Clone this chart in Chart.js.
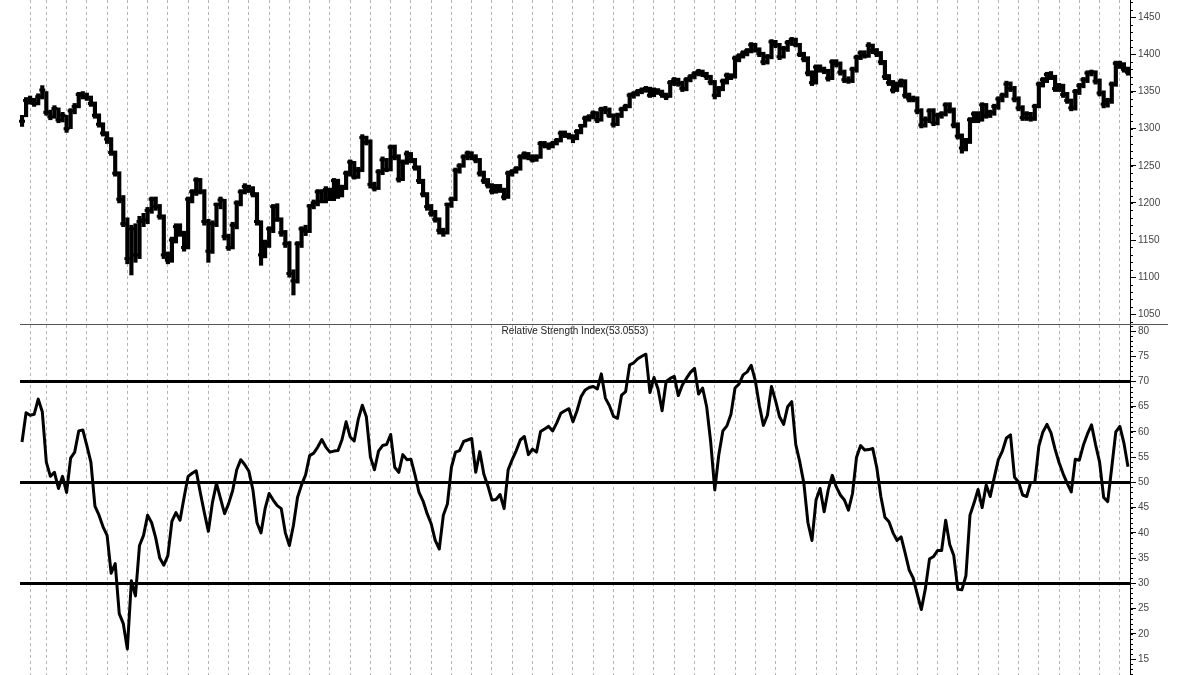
<!DOCTYPE html>
<html>
<head>
<meta charset="utf-8">
<script src="https://cdn.jsdelivr.net/npm/chart.js@4"></script>
<style>
body { margin: 0; background: #fff; }
#wrap { position: relative; width: 1200px; height: 675px; overflow: hidden; }
#priceCanvas { position: absolute; left: 0; top: 0; }
#rsiCanvas { position: absolute; left: 0; top: 325px; }
#sep { position: absolute; left: 20px; top: 324px; width: 1148px; height: 1px; background: #555; }
#rsiTitle { position: absolute; left: 20px; width: 1110px; top: 325px; text-align: center;
  font: 10px "Liberation Sans", Arial, sans-serif; color: #222; line-height: 12px; }
</style>
</head>
<body>
<div id="wrap">
	<canvas id="priceCanvas" width="1200" height="325"></canvas>
	<canvas id="rsiCanvas" width="1200" height="350"></canvas>
	<div id="sep"></div>
	<div id="rsiTitle">Relative Strength Index(53.0553)</div>
</div>
<script>
// daily bars
var closes = [
	1310,1338,1339,1334,1343,1352,1322,1316,1327,1312,
	1318,1300,1324,1330,1346,1345,1342,1334,1318,1306,
	1294,1286,1268,1240,1205,1172,1125,1165,1130,1175,
	1177,1190,1205,1195,1182,1130,1123,1150,1168,1160,
	1140,1205,1215,1231,1215,1175,1135,1172,1198,1204,
	1155,1140,1170,1200,1215,1222,1218,1212,1175,1130,
	1145,1165,1195,1178,1160,1145,1105,1095,1145,1165,
	1162,1196,1200,1215,1202,1218,1205,1230,1210,1220,
	1240,1255,1235,1244,1288,1282,1225,1220,1242,1258,
	1245,1275,1262,1232,1255,1266,1258,1248,1230,1212,
	1195,1186,1178,1163,1160,1198,1205,1244,1250,1262,
	1267,1262,1258,1240,1230,1224,1216,1222,1218,1208,
	1240,1242,1246,1262,1266,1262,1258,1262,1280,1278,
	1276,1280,1284,1294,1292,1290,1288,1296,1304,1314,
	1316,1321,1312,1326,1325,1318,1306,1318,1326,1330,
	1345,1347,1350,1352,1354,1345,1352,1350,1346,1343,
	1362,1366,1361,1354,1366,1370,1374,1377,1374,1370,
	1363,1345,1354,1364,1372,1370,1395,1398,1402,1405,
	1413,1406,1401,1390,1397,1417,1413,1397,1408,1416,
	1420,1413,1400,1394,1375,1362,1383,1380,1378,1368,
	1390,1387,1376,1366,1365,1380,1396,1402,1398,1412,
	1405,1401,1390,1370,1362,1352,1360,1364,1345,1340,
	1340,1324,1305,1312,1324,1308,1318,1320,1332,1325,
	1305,1290,1274,1283,1312,1320,1312,1332,1318,1322,
	1330,1340,1345,1360,1354,1340,1328,1315,1320,1314,
	1330,1360,1366,1373,1370,1354,1358,1346,1338,1328,
	1350,1358,1366,1375,1376,1364,1348,1333,1338,1360,
	1388,1386,1380,1376
];
var lows = [
	1303,1316,1333,1330,1332,1340,1318,1312,1314,1308,
	1309,1295,1300,1320,1328,1340,1338,1330,1314,1302,
	1290,1280,1264,1236,1200,1168,1118,1103,1120,1125,
	1168,1172,1186,1190,1178,1125,1118,1120,1146,1155,
	1135,1138,1200,1210,1212,1170,1120,1132,1168,1192,
	1150,1136,1138,1165,1196,1212,1214,1208,1170,1116,
	1126,1140,1160,1175,1155,1140,1100,1076,1092,1140,
	1156,1160,1192,1196,1200,1200,1203,1203,1206,1208,
	1218,1236,1232,1233,1242,1278,1220,1216,1218,1238,
	1242,1243,1258,1228,1230,1252,1254,1244,1226,1208,
	1190,1182,1174,1158,1155,1158,1194,1203,1240,1248,
	1258,1258,1254,1236,1226,1220,1212,1213,1214,1204,
	1206,1236,1240,1244,1259,1258,1255,1256,1260,1274,
	1272,1274,1278,1282,1288,1286,1281,1285,1293,1302,
	1310,1313,1308,1310,1320,1315,1302,1304,1315,1324,
	1328,1341,1344,1347,1349,1342,1343,1346,1342,1339,
	1342,1358,1357,1350,1351,1363,1367,1371,1370,1366,
	1359,1340,1343,1351,1360,1366,1368,1390,1395,1398,
	1402,1403,1397,1386,1387,1394,1409,1393,1395,1404,
	1412,1410,1397,1390,1371,1358,1360,1376,1374,1364,
	1366,1383,1372,1362,1361,1362,1376,1393,1395,1396,
	1401,1397,1386,1366,1358,1348,1350,1356,1341,1336,
	1336,1320,1301,1302,1308,1304,1305,1314,1317,1321,
	1301,1286,1267,1270,1280,1308,1308,1310,1314,1315,
	1318,1326,1336,1342,1350,1336,1324,1311,1311,1310,
	1311,1328,1356,1362,1366,1350,1350,1342,1334,1324,
	1325,1346,1355,1362,1371,1360,1344,1328,1329,1334,
	1357,1381,1376,1372
];
var highs = [
	1318,1342,1344,1341,1347,1358,1350,1325,1331,1328,
	1322,1318,1327,1334,1349,1350,1348,1344,1336,1320,
	1308,1296,1288,1270,1242,1210,1180,1170,1172,1182,
	1186,1194,1208,1208,1198,1184,1134,1154,1172,1172,
	1162,1208,1218,1234,1233,1218,1178,1176,1200,1208,
	1205,1158,1174,1203,1218,1226,1224,1222,1214,1176,
	1150,1168,1198,1199,1180,1163,1148,1110,1148,1168,
	1170,1198,1204,1218,1218,1222,1220,1233,1232,1224,
	1243,1258,1256,1248,1292,1290,1285,1228,1245,1262,
	1260,1278,1278,1265,1258,1270,1268,1260,1250,1232,
	1214,1198,1190,1180,1166,1200,1208,1247,1253,1265,
	1270,1269,1265,1260,1243,1233,1226,1225,1225,1220,
	1243,1245,1249,1265,1269,1268,1265,1265,1283,1283,
	1281,1283,1287,1297,1297,1294,1292,1299,1306,1317,
	1319,1324,1323,1329,1330,1328,1320,1321,1329,1333,
	1348,1350,1353,1355,1357,1356,1355,1354,1352,1348,
	1365,1369,1368,1364,1369,1373,1377,1380,1379,1376,
	1372,1365,1357,1367,1375,1374,1398,1401,1405,1408,
	1416,1415,1409,1403,1400,1420,1419,1415,1411,1419,
	1423,1422,1415,1403,1397,1378,1386,1386,1383,1380,
	1393,1393,1390,1379,1370,1383,1399,1405,1405,1416,
	1414,1408,1404,1392,1373,1365,1363,1367,1366,1348,
	1344,1343,1327,1316,1327,1327,1321,1323,1335,1335,
	1328,1308,1293,1287,1315,1323,1323,1335,1334,1325,
	1333,1343,1348,1364,1363,1357,1343,1331,1323,1322,
	1333,1363,1369,1376,1377,1372,1361,1360,1349,1340,
	1353,1361,1369,1378,1379,1378,1367,1351,1341,1363,
	1391,1391,1389,1383
];
var rsi = [
	58,63.8,63.3,63.5,66.5,64,54,51.2,52,48.8,
	51.2,48,54.8,56,60.2,60.4,57.3,54,45.3,43.5,
	41.2,39.5,32,33.9,24,22,17,30.5,27.5,37.5,
	39.5,43.5,42,39,35,33.6,35.5,42.3,44,42.5,
	47,51.2,51.8,52.3,48,44,40.3,46,49.8,46.8,
	43.8,45.8,48.4,52.5,54.5,53.5,52.2,48.5,42,40,
	44.8,47.8,46.5,45.4,44.8,40,37.5,41.5,47,49.5,
	51.5,55.3,55.8,57,58.5,57,56,56.2,56.3,58.5,
	62,59,58.2,62.5,65.3,63,55,52.5,56.2,57.3,
	57.5,59.5,53,52,55.5,54.5,54.6,51.5,48,46.3,
	43.8,41.8,38.5,36.8,43.5,45.7,53,56,56.3,58.1,
	58.4,58.7,52,56.1,51.6,49.3,46.5,46.6,47.6,44.8,
	52.5,54.5,56.3,58.4,59.1,55.5,56.6,56,60.1,60.6,
	61.1,60.2,61.8,63.7,64.2,64.6,62,64.2,67,68.3,
	68.8,69,68.5,71.5,66.7,65.2,63.1,62.7,67.3,68,
	73.3,73.7,74.5,75,75.4,67.8,70.8,68.5,64.2,70,
	70.6,71,67.2,69.3,70.6,71.8,72.6,67.5,68.7,65,
	58,48.5,55.5,60.2,61.2,63.5,68.7,69.5,71.3,71.9,
	73.2,70.2,65.3,61.3,63.3,69,66.2,63,61.5,65,
	66,57.5,54,49.8,42,38.5,46.5,48.8,44.2,48.5,
	51.4,49.1,47.5,46.5,44.5,47.8,55,57.3,56.4,56.5,
	56.7,52.9,47.2,43.1,42.2,40,38.5,39.2,36,32.6,
	31,27.8,24.8,29,34.8,35.3,36.5,36.5,42.5,37.7,
	35.5,28.8,28.7,31.5,43.5,45.9,48.6,45,49.5,47.2,
	51,54.5,56.2,58.8,59.4,51,50.1,47.5,47.2,50,
	50,57.2,60,61.5,59.8,56.6,53.9,51.7,49.8,48.1,
	54.6,54.4,57.4,59.6,61.4,57.5,54,47,46.2,53,
	60,61.1,57.8,53.1
];
var rsiLevels = [30, 50, 70];
var days = closes.map(function(c, i) { return i; });

Chart.defaults.font.family = '"Liberation Sans", Arial, sans-serif';
Chart.defaults.font.size = 10;
Chart.defaults.color = '#444';
Chart.defaults.animation = false;
Chart.defaults.plugins.legend.display = false;
Chart.defaults.plugins.tooltip.enabled = false;

// small ticks between the labelled ones
var minorTicks = {
	id: 'minorTicks',
	afterDraw: function(chart, args, opts) {
		var s = chart.scales.y, ctx = chart.ctx;
		ctx.save();
		ctx.strokeStyle = '#000';
		ctx.lineWidth = 1;
		ctx.beginPath();
		for (var v = Math.ceil(s.min / opts.step) * opts.step; v <= s.max; v += opts.step) {
			var y = Math.round(s.getPixelForValue(v)) + 0.5;
			ctx.moveTo(s.left, y);
			ctx.lineTo(s.left + 3, y);
		}
		ctx.stroke();
		ctx.restore();
	}
};

function weekGrid(c) {
	var i = c.index;
	return (i === 2 || (i >= 6 && (i - 6) % 5 === 0)) ? '#b4b4b4' : 'rgba(0,0,0,0)';
}

function noPad(s) {
	s.paddingTop = 0;
	s.paddingBottom = 0;
	s.paddingLeft = 0;
	s.paddingRight = 0;
}

function xAxis() {
	return {
		type: 'category',
		offset: true,
		ticks: { display: false, autoSkip: false },
		border: { display: false, dash: [3, 3] },
		grid: { offset: false, drawTicks: false, color: weekGrid, lineWidth: 1 },
		afterFit: function(s) { s.height = 0; noPad(s); }
	};
}

function yAxis(min, max, step) {
	return {
		position: 'right',
		min: min,
		max: max,
		ticks: {
			stepSize: step, includeBounds: false, autoSkip: false, padding: 2, color: '#444',
			callback: function(v) { return String(v); }
		},
		border: { display: true, color: '#000', width: 1 },
		afterFit: function(s) { s.width = 70; noPad(s); }
	};
}

var priceY = yAxis(1035.6, 1473.3, 50);
priceY.grid = { drawOnChartArea: false, drawTicks: true, tickLength: 6, tickColor: '#000', tickWidth: 1 };

new Chart(document.getElementById('priceCanvas'), {
	type: 'bar',
	data: {
		labels: days,
		datasets: [
			{
				type: 'bar',
				data: lows.map(function(l, i) { return [l, highs[i]]; }),
				backgroundColor: '#000',
				barThickness: 3.5,
				grouped: false
			},
			{
				type: 'line',
				data: closes,
				showLine: false,
				pointStyle: 'line',
				pointRadius: 3,
				pointBorderWidth: 3,
				pointBorderColor: '#000',
				pointHoverRadius: 0
			}
		]
	},
	options: {
		responsive: false,
		layout: { autoPadding: false, padding: { left: 20, right: 0, top: 0, bottom: 0 } },
		scales: { x: xAxis(), y: priceY },
		plugins: { minorTicks: { step: 10 } }
	},
	plugins: [minorTicks]
});

var rsiY = yAxis(11.83, 81.19, 5);
rsiY.grid = {
	drawOnChartArea: true,
	drawTicks: true,
	tickLength: 6,
	tickColor: '#000',
	tickWidth: 1,
	lineWidth: 3,
	color: function(c) { return rsiLevels.indexOf(c.tick.value) >= 0 ? '#000' : 'rgba(0,0,0,0)'; }
};

new Chart(document.getElementById('rsiCanvas'), {
	type: 'line',
	data: {
		labels: days,
		datasets: [{
			data: rsi,
			borderColor: '#000',
			borderWidth: 3,
			borderJoinStyle: 'round',
			pointRadius: 0,
			tension: 0
		}]
	},
	options: {
		responsive: false,
		layout: { autoPadding: false, padding: { left: 20, right: 0, top: 0, bottom: 0 } },
		scales: { x: xAxis(), y: rsiY },
		plugins: { minorTicks: { step: 1 } }
	},
	plugins: [minorTicks]
});
</script>
</body>
</html>
